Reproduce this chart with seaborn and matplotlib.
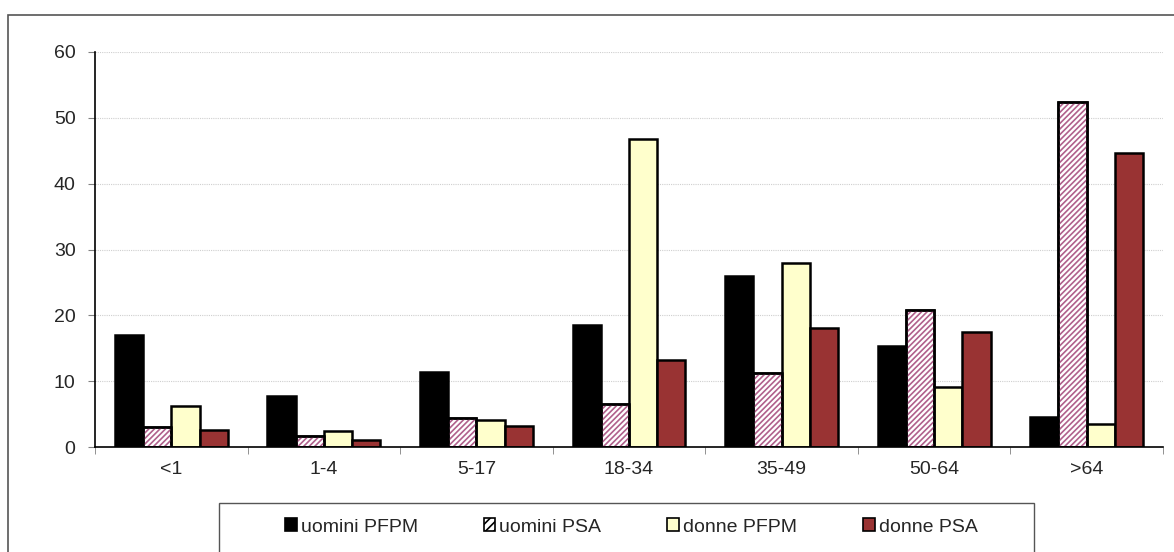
import matplotlib
matplotlib.use("Agg")
import matplotlib.pyplot as plt
from matplotlib.patches import Rectangle, Patch
import pandas as pd
import seaborn as sns

# valori (%)
fasce = ["<1", "1-4", "5-17", "18-34", "35-49", "50-64", ">64"]
uomini_pfpm = [17.0, 7.7, 11.4, 18.5, 25.9, 15.4, 4.5]
uomini_psa = [3.1, 1.6, 4.4, 6.5, 11.3, 20.8, 52.4]
donne_pfpm = [6.2, 2.5, 4.1, 46.8, 28.0, 9.1, 3.5]
donne_psa = [2.6, 1.1, 3.2, 13.2, 18.1, 17.4, 44.7]
serie = ["uomini PFPM", "uomini PSA", "donne PFPM", "donne PSA"]

colori = ["#000000", "#ffffff", "#ffffcc", "#993333"]
hatch_col = "#b0608c"

df = pd.DataFrame({
    "fascia": fasce * 4,
    "valore": uomini_pfpm + uomini_psa + donne_pfpm + donne_psa,
    "serie": [s for s in serie for _ in fasce],
})

sns.set_style("white")
plt.rcParams["font.family"] = ["Liberation Sans", "DejaVu Sans"]
plt.rcParams["hatch.linewidth"] = 1.2

fig = plt.figure(figsize=(11.74, 5.52), dpi=100)
ax = fig.add_axes([95 / 1174, 1 - 447 / 552, (1163 - 95) / 1174, (447 - 52) / 552])

sns.barplot(data=df, x="fascia", y="valore", hue="serie", hue_order=serie,
            palette=colori, width=0.74, edgecolor="black", linewidth=1.8,
            saturation=1, legend=False, ax=ax)

# tratteggio rosa sulle barre "uomini PSA"
for p in ax.containers[1]:
    r = Rectangle(p.get_xy(), p.get_width(), p.get_height(), fill=False,
                  hatch="//////", edgecolor=hatch_col, linewidth=0, zorder=p.get_zorder() + 0.1)
    ax.add_patch(r)
    r2 = Rectangle(p.get_xy(), p.get_width(), p.get_height(), fill=False,
                   edgecolor="black", linewidth=1.8, zorder=p.get_zorder() + 0.2)
    ax.add_patch(r2)

ax.set_ylim(0, 60)
ax.set_xlim(-0.5, 6.5)
ax.set_yticks(range(0, 61, 10))
ax.set_xlabel("")
ax.set_ylabel("")
ax.yaxis.grid(True, color="#cfcfcf", linestyle=(0, (1, 1)), linewidth=0.8)
ax.set_axisbelow(True)
for s in ["top", "right"]:
    ax.spines[s].set_visible(False)
ax.spines["left"].set_color("black")
ax.spines["bottom"].set_color("black")
ax.spines["left"].set_linewidth(1.2)
ax.spines["bottom"].set_linewidth(1.2)

ax.tick_params(axis="y", left=True, length=5, color="#808080", labelsize=14, pad=9)
ax.set_xticks(range(7))
ax.set_xticklabels(fasce, fontsize=14)
ax.tick_params(axis="x", bottom=False, length=0, pad=10)
ax.set_xticks([i - 0.5 for i in range(8)], minor=True)
ax.tick_params(axis="x", which="minor", bottom=True, length=5, color="#808080")

# cornice esterna
fig.patches.append(Rectangle((8 / 1174, -0.1), 1.2, (552 - 15) / 552 + 0.1,
                             transform=fig.transFigure, fill=False,
                             edgecolor="#555555", linewidth=1.2))
# riquadro della legenda
fig.patches.append(Rectangle((219 / 1174, -0.1), (1034 - 219) / 1174, (552 - 503) / 552 + 0.1,
                             transform=fig.transFigure, fill=False,
                             edgecolor="#555555", linewidth=1.0))

handles = []
for i, s in enumerate(serie):
    if i == 1:
        handles.append(Patch(facecolor="white", edgecolor="black", hatch="////", linewidth=1.2, label=s))
    else:
        handles.append(Patch(facecolor=colori[i], edgecolor="black", linewidth=1.2, label=s))

leg = fig.legend(handles=handles, loc="center left", ncol=4,
                 bbox_to_anchor=(285 / 1174, 1 - 527 / 552),
                 fontsize=14, frameon=False, handlelength=0.6,
                 handleheight=0.6, handletextpad=0.2, borderpad=0,
                 borderaxespad=0, columnspacing=3.4)

fig.savefig("out.png", dpi=100)
